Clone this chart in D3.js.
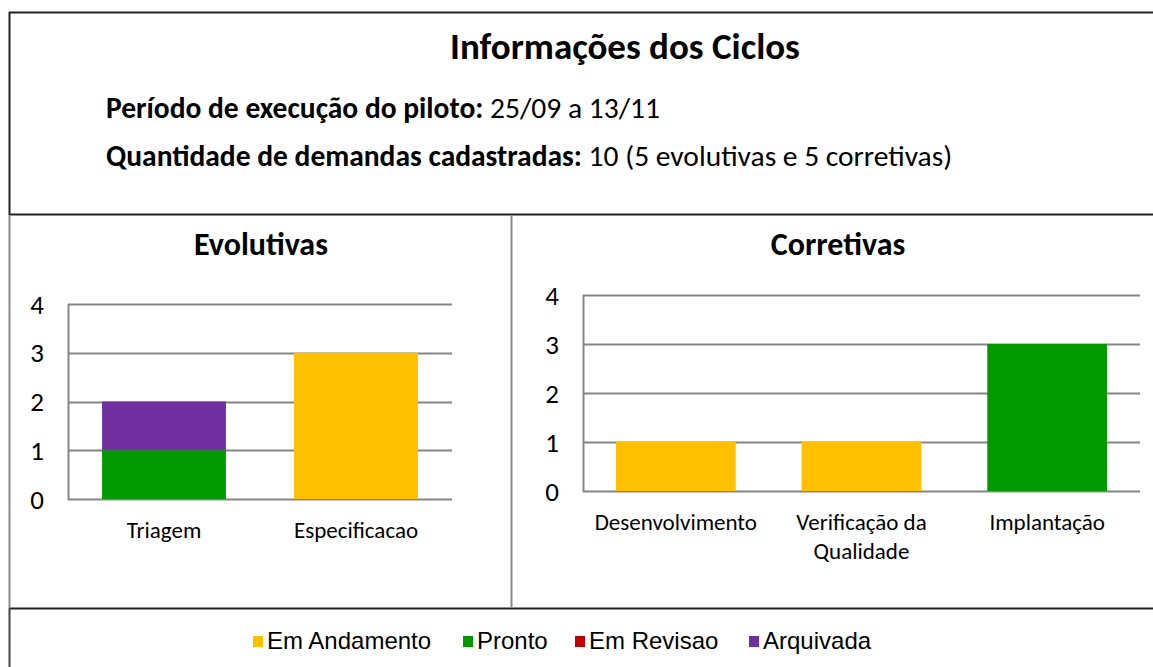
<!DOCTYPE html>
<html>
<head>
<meta charset="utf-8">
<script src="https://cdn.jsdelivr.net/npm/d3@7"></script>
<style>
  body { margin: 0; background: #fff; }
  svg { display: block; }
  text { font-family: Carlito, Calibri, Lato, sans-serif; fill: #000; }
  .legend text { font-family: "Liberation Sans", Arial, sans-serif; }
</style>
</head>
<body>
<svg width="1153" height="667"></svg>
<script>
const series = ['Em Andamento', 'Pronto', 'Em Revisao', 'Arquivada'];
const colors = ['#FFC000', '#009900', '#C00000', '#7030A0'];

const evoCategories = ['Triagem', 'Especificacao'];
const evoAndamento = [0, 3];
const evoPronto = [1, 0];
const evoRevisao = [0, 0];
const evoArquivada = [1, 0];

const corCategories = ['Desenvolvimento', 'Verificação da Qualidade', 'Implantação'];
const corAndamento = [1, 1, 0];
const corPronto = [0, 0, 3];
const corRevisao = [0, 0, 0];
const corArquivada = [0, 0, 0];

const yTicks = [0, 1, 2, 3, 4];

const svg = d3.select('svg');

// frame of the document table
svg.append('line').attr('x1', 9).attr('x2', 1153).attr('y1', 12.5).attr('y2', 12.5)
  .attr('stroke', '#222').attr('stroke-width', 2);
svg.append('line').attr('x1', 9).attr('x2', 1153).attr('y1', 214.5).attr('y2', 214.5)
  .attr('stroke', '#222').attr('stroke-width', 2);
svg.append('line').attr('x1', 9).attr('x2', 1153).attr('y1', 608.5).attr('y2', 608.5)
  .attr('stroke', '#222').attr('stroke-width', 2);
svg.append('line').attr('x1', 9.5).attr('x2', 9.5).attr('y1', 12).attr('y2', 215)
  .attr('stroke', '#222').attr('stroke-width', 2);
svg.append('line').attr('x1', 9.5).attr('x2', 9.5).attr('y1', 215).attr('y2', 608)
  .attr('stroke', '#8a8a8a').attr('stroke-width', 2);
svg.append('line').attr('x1', 9.5).attr('x2', 9.5).attr('y1', 608).attr('y2', 667)
  .attr('stroke', '#444').attr('stroke-width', 2);
svg.append('line').attr('x1', 511.5).attr('x2', 511.5).attr('y1', 215).attr('y2', 608)
  .attr('stroke', '#8a8a8a').attr('stroke-width', 2);

// header
svg.append('text').attr('x', 625).attr('y', 59).attr('text-anchor', 'middle')
  .attr('font-size', 37).attr('font-weight', 'bold').text('Informações dos Ciclos');

const l1 = svg.append('text').attr('x', 106).attr('y', 118).attr('font-size', 29.5);
l1.append('tspan').attr('font-weight', 'bold').text('Período de execução do piloto:');
l1.append('tspan').text(' 25/09 a 13/11');

const l2 = svg.append('text').attr('x', 106).attr('y', 166).attr('font-size', 29.5);
l2.append('tspan').attr('font-weight', 'bold').text('Quantidade de demandas cadastradas:');
l2.append('tspan').text(' 10 (5 evolutivas e 5 corretivas)');

function drawChart(cfg) {
  const g = svg.append('g');
  const rows = cfg.categories.map((c, i) => ({
    cat: c,
    'Em Andamento': cfg.values[0][i],
    'Pronto': cfg.values[1][i],
    'Em Revisao': cfg.values[2][i],
    'Arquivada': cfg.values[3][i]
  }));

  const x = d3.scaleBand().domain(cfg.categories).range([cfg.left, cfg.right])
    .paddingInner(0.355).paddingOuter(0.1775);
  const y = d3.scaleLinear().domain([0, 4]).range([cfg.bottom, cfg.top]);

  g.append('text').attr('x', cfg.titleX).attr('y', 255).attr('text-anchor', 'middle')
    .attr('font-size', 32).attr('font-weight', 'bold').text(cfg.title);

  // gridlines
  g.selectAll('.grid').data(yTicks).enter().append('line')
    .attr('x1', cfg.left).attr('x2', cfg.right)
    .attr('y1', d => Math.round(y(d)) + 0.5).attr('y2', d => Math.round(y(d)) + 0.5)
    .attr('stroke', '#868686').attr('stroke-width', 2);
  g.append('line').attr('x1', cfg.left + 0.5).attr('x2', cfg.left + 0.5)
    .attr('y1', y(4)).attr('y2', y(0) + 1)
    .attr('stroke', '#868686').attr('stroke-width', 2);

  g.selectAll('.tick').data(yTicks).enter().append('text')
    .attr('x', cfg.labelX).attr('y', d => y(d)).attr('dy', '0.36em')
    .attr('text-anchor', 'middle').attr('font-size', 27).text(d => d);

  const stack = d3.stack().keys(series)(rows);
  g.selectAll('.layer').data(stack).enter().append('g')
    .attr('fill', (d, i) => colors[i])
    .selectAll('rect').data(d => d).enter().append('rect')
    .attr('x', d => x(d.data.cat))
    .attr('width', x.bandwidth())
    .attr('y', d => y(d[1]))
    .attr('height', d => y(d[0]) - y(d[1]));

  const labels = g.selectAll('.cat').data(cfg.categories).enter().append('text')
    .attr('x', d => x(d) + x.bandwidth() / 2)
    .attr('y', cfg.bottom + cfg.labelDy)
    .attr('text-anchor', 'middle').attr('font-size', 23);
  labels.each(function (d) {
    const lines = cfg.wrap[d] || [d];
    d3.select(this).selectAll('tspan').data(lines).enter().append('tspan')
      .attr('x', x(d) + x.bandwidth() / 2)
      .attr('dy', (l, i) => i === 0 ? 0 : 29)
      .text(l => l);
  });
}

drawChart({
  title: 'Evolutivas', titleX: 261,
  categories: evoCategories,
  values: [evoAndamento, evoPronto, evoRevisao, evoArquivada],
  left: 68, right: 452, top: 304, bottom: 499, labelX: 37, labelDy: 39, wrap: {}
});

drawChart({
  title: 'Corretivas', titleX: 838,
  categories: corCategories,
  values: [corAndamento, corPronto, corRevisao, corArquivada],
  left: 583, right: 1140, top: 295, bottom: 491, labelX: 552, labelDy: 39,
  wrap: { 'Verificação da Qualidade': ['Verificação da', 'Qualidade'] }
});

// legend
const legendX = [253, 463, 575, 749];
const lg = svg.append('g').attr('class', 'legend');
const item = lg.selectAll('g').data(series).enter().append('g')
  .attr('transform', (d, i) => `translate(${legendX[i]},641)`);
item.append('rect').attr('x', 0).attr('y', -5).attr('width', 10).attr('height', 11)
  .attr('fill', (d, i) => colors[i]);
item.append('text').attr('x', 14).attr('y', 0).attr('dy', '0.35em')
  .attr('font-size', 24).text(d => d);
</script>
</body>
</html>
